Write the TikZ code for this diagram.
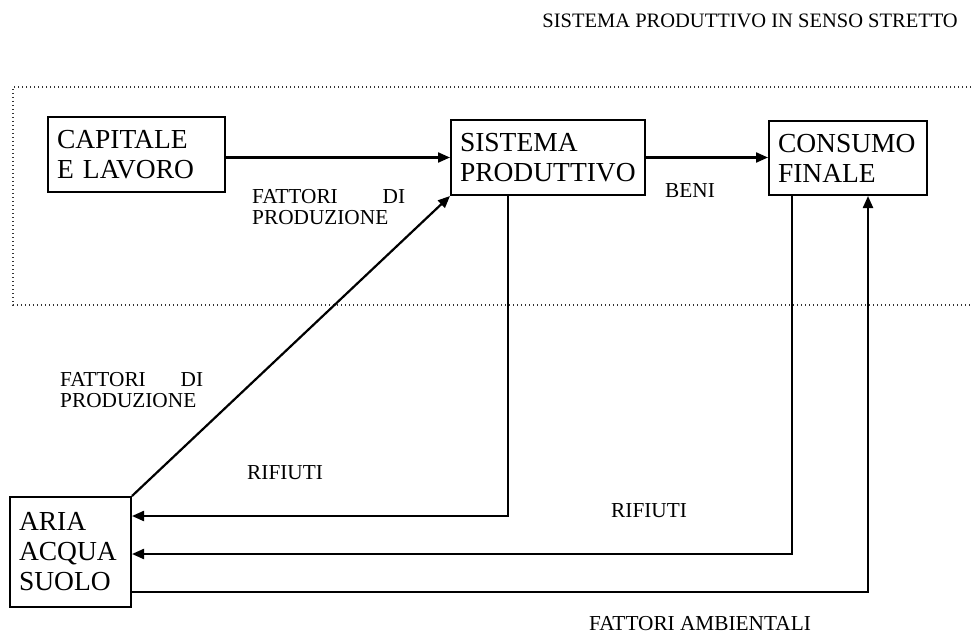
\documentclass[tikz,border=0pt]{standalone}
\usepackage{fontspec}
\setmainfont{Liberation Serif}
\usetikzlibrary{arrows.meta}
\begin{document}
\begin{tikzpicture}[x=1pt,y=-1pt,
  box/.style={draw, line width=2pt, rectangle, inner xsep=9pt, inner ysep=0pt,
    align=left, font=\fontsize{27.5}{30}\selectfont},
  lbl/.style={inner sep=0pt, anchor=north west, align=left,
    font=\fontsize{21.3}{21.5}\selectfont},
  link/.style={line width=2.2pt},
  arr/.style={link, -{Triangle[length=12pt,width=10pt]}},
  frame/.style={line width=1.4pt, dash pattern=on 1.4pt off 2.6pt, black!80}]
\useasboundingbox (0,0) rectangle (971,634);

% area of the production system in the strict sense
\draw[frame] (971,87) -- (13,87) -- (13,305) -- (971,305);
\node[lbl, anchor=north east, font=\fontsize{20.5}{21}\selectfont] (title) at (958,14)
  {SISTEMA PRODUTTIVO IN SENSO STRETTO};

% blocks
\node[box, text width=159pt, minimum height=75pt] (cap) at (136.5,154.5) {CAPITALE\\E LAVORO};
\node[box, text width=176pt, minimum height=75pt] (sis) at (548,157.5) {SISTEMA\\PRODUTTIVO};
\node[box, text width=140pt, minimum height=74pt] (con) at (848,158) {CONSUMO\\FINALE};
\node[box, text width=103pt, minimum height=110pt] (aria) at (70.5,552) {ARIA\\ACQUA\\SUOLO};

% flows inside the production system
\draw[arr] (sis.west -| cap.east) -- (sis.west);
\draw[arr] (sis.east) -- (sis.east -| con.west);

% environment supplies production factors
\draw[arr] (aria.north east) -- (sis.south west);

% waste flows back to the environment
\coordinate (w1) at (508,516);
\coordinate (w2) at (792,554);
\coordinate (w3) at (868,592);
\draw[arr] (w1 |- sis.south) -- (w1) -- (w1 -| aria.east);
\draw[arr] (w2 |- con.south) -- (w2) -- (w2 -| aria.east);
\draw[arr] (w3 -| aria.east) -- (w3) -- (w3 |- con.south);

% labels
\node[lbl] (fp1) at (252,189) {\makebox[153pt][s]{FATTORI\hfill DI}\\PRODUZIONE};
\node[lbl] (beni) at (665,183) {BENI};
\node[lbl] (fp2) at (60,372) {\makebox[143pt][s]{FATTORI\hfill DI}\\PRODUZIONE};
\node[lbl] (rif1) at (247,465) {RIFIUTI};
\node[lbl] (rif2) at (611,503) {RIFIUTI};
\node[lbl] (amb) at (589,616) {FATTORI AMBIENTALI};
\end{tikzpicture}
\end{document}
